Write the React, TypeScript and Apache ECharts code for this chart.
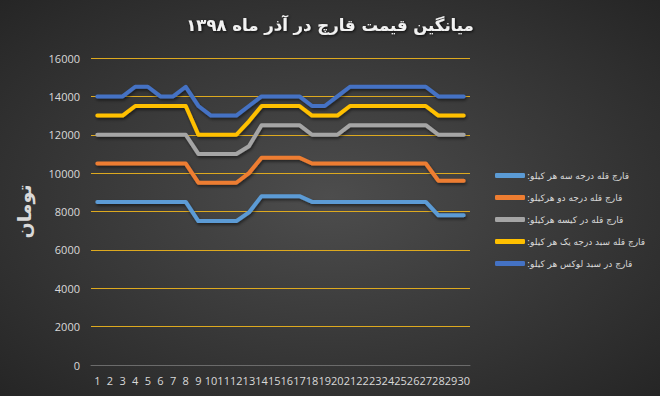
import React, { useEffect, useRef } from "react";
import * as echarts from "echarts";

const titleText = "میانگین قیمت قارچ در آذر ماه ۱۳۹۸";
const yAxisName = "تومان";
const days = Array.from({ length: 30 }, (_, i) => String(i + 1));
const yTicks = { min: 0, max: 16000, interval: 2000 };

const names = [
  "قارچ قله درجه سه هر کیلو:",
  "قارچ قله درجه دو هرکیلو:",
  "قارچ قله در کیسه هرکیلو:",
  "قارچ قله سبد درجه یک هر کیلو:",
  "قارچ در سبد لوکس هر کیلو:",
];
const colors = ["#5B9BD5", "#ED7D31", "#A5A5A5", "#FFC000", "#4472C4"];

const grade3 = [8500, 8500, 8500, 8500, 8500, 8500, 8500, 8500, 7500, 7500, 7500, 7500, 7950, 8800, 8800, 8800, 8800, 8500, 8500, 8500, 8500, 8500, 8500, 8500, 8500, 8500, 8500, 7800, 7800, 7800];
const grade2 = [10500, 10500, 10500, 10500, 10500, 10500, 10500, 10500, 9500, 9500, 9500, 9500, 10000, 10800, 10800, 10800, 10800, 10500, 10500, 10500, 10500, 10500, 10500, 10500, 10500, 10500, 10500, 9600, 9600, 9600];
const bagged = [12000, 12000, 12000, 12000, 12000, 12000, 12000, 12000, 11000, 11000, 11000, 11000, 11400, 12500, 12500, 12500, 12500, 12000, 12000, 12000, 12500, 12500, 12500, 12500, 12500, 12500, 12500, 12000, 12000, 12000];
const basket1 = [13000, 13000, 13000, 13500, 13500, 13500, 13500, 13500, 12000, 12000, 12000, 12000, 12700, 13500, 13500, 13500, 13500, 13000, 13000, 13000, 13500, 13500, 13500, 13500, 13500, 13500, 13500, 13000, 13000, 13000];
const luxury = [14000, 14000, 14000, 14500, 14500, 14000, 14000, 14500, 13500, 13000, 13000, 13000, 13500, 14000, 14000, 14000, 14000, 13500, 13500, 14000, 14500, 14500, 14500, 14500, 14500, 14500, 14500, 14000, 14000, 14000];
const seriesData = [grade3, grade2, bagged, basket1, luxury];

export default function App() {
  const ref = useRef<HTMLDivElement>(null);
  useEffect(() => {
    if (!ref.current) return;
    const chart = echarts.init(ref.current, undefined, { renderer: "svg" });
    chart.setOption({
      animation: false,
      backgroundColor: {
        type: "radial",
        x: 0.5,
        y: 0.5,
        r: 0.75,
        colorStops: [
          { offset: 0, color: "#4d4d4d" },
          { offset: 1, color: "#232323" },
        ],
      },
      title: {
        text: titleText,
        left: "center",
        top: 12,
        textStyle: {
          color: "#f2f2f2",
          fontSize: 16.5,
          fontWeight: "bold",
          fontFamily: "DejaVu Sans",
          textShadowColor: "rgba(0,0,0,0.8)",
          textShadowBlur: 3,
          textShadowOffsetX: 1,
          textShadowOffsetY: 1,
        },
      },
      legend: {
        orient: "vertical",
        left: 490,
        top: 166,
        itemGap: 13,
        itemWidth: 30,
        itemHeight: 5,
        icon: "roundRect",
        data: names.map((n) => ({ name: n })),
        formatter: (n: string) => n + "\u200F",
        textStyle: { color: "#d9d9d9", fontSize: 9, fontFamily: "DejaVu Sans", padding: [0, 0, 0, -3] },
      },
      grid: { left: 91, right: 190, top: 58, bottom: 31, containLabel: false },
      xAxis: {
        type: "category",
        data: days,
        boundaryGap: true,
        axisLine: { lineStyle: { color: "#6b6b6b", width: 1 } },
        axisTick: { show: false },
        axisLabel: { interval: 0, color: "#d9d9d9", fontSize: 11, margin: 10, fontFamily: "Open Sans" },
      },
      yAxis: {
        type: "value",
        min: yTicks.min,
        max: yTicks.max,
        interval: yTicks.interval,
        name: yAxisName,
        nameLocation: "middle",
        nameGap: 58,
        nameRotate: 90,
        nameTextStyle: { color: "#d9d9d9", fontSize: 19, fontWeight: "bold", fontFamily: "DejaVu Sans" },
        axisLine: { show: false },
        axisTick: { show: false },
        axisLabel: {
          color: "#d9d9d9",
          fontSize: 11,
          margin: 11,
          fontFamily: "Open Sans",
          formatter: (v: number) => String(v),
        },
        splitLine: { lineStyle: { color: "#DDA91F", width: 1 } },
      },
      series: seriesData.map((d, i) => ({
        type: "line",
        name: names[i],
        data: d,
        showSymbol: false,
        symbol: "none",
        color: colors[i],
        lineStyle: {
          width: 4,
          color: colors[i],
          cap: "round",
          join: "round",
          shadowColor: "rgba(0,0,0,0.5)",
          shadowBlur: 3,
          shadowOffsetX: 1,
          shadowOffsetY: 2,
        },
        z: 2 + i,
      })),
    });
    return () => chart.dispose();
  }, []);
  return <div ref={ref} style={{ width: 660, height: 396, position: "absolute", left: 0, top: 0 }} />;
}
